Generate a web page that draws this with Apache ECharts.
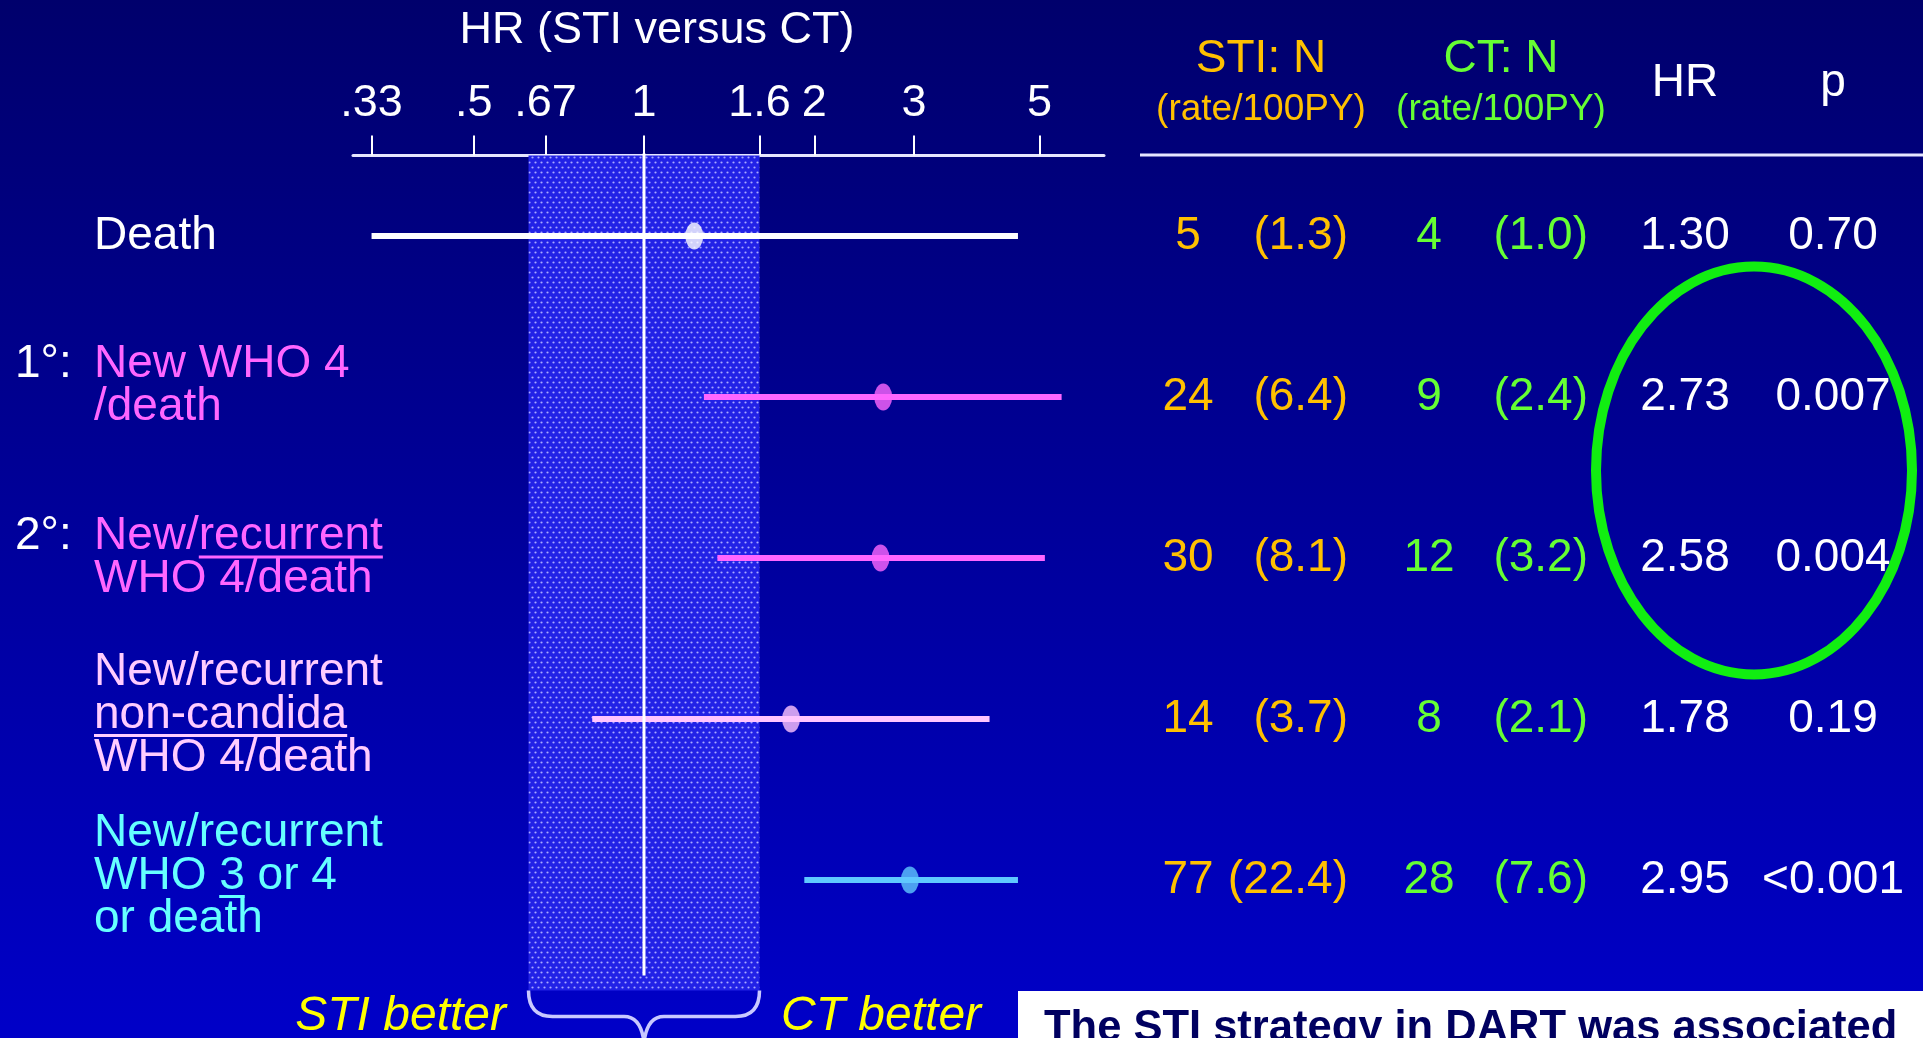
<!DOCTYPE html>
<html><head><meta charset="utf-8">
<script src="https://cdn.jsdelivr.net/npm/echarts@6/dist/echarts.min.js"></script>
<style>html,body{margin:0;padding:0;overflow:hidden;background:#000070}#c{width:1923px;height:1038px}</style>
</head><body><div id="c"></div>
<script>
const FONT = '"Liberation Sans", Arial, sans-serif';

// ---- data ----
const categories = ['Death', 'New WHO 4/death', 'New/recurrent WHO 4/death', 'New/recurrent non-candida WHO 4/death', 'New/recurrent WHO 3 or 4 or death'];
const hrPoint = [1.227, 2.647, 2.618, 1.819, 2.95];
const ciLow  = [0.33, 1.276, 1.348, 0.81, 1.92];
const ciHigh = [4.58, 5.47, 5.11, 4.08, 4.58];
const stiN    = [5, 24, 30, 14, 77];
const stiRate = [1.3, 6.4, 8.1, 3.7, 22.4];
const ctN     = [4, 9, 12, 8, 28];
const ctRate  = [1.0, 2.4, 3.2, 2.1, 7.6];
const hrText  = ['1.30', '2.73', '2.58', '1.78', '2.95'];
const pText   = ['0.70', '0.007', '0.004', '0.19', '<0.001'];
const tickValues = [0.33, 0.5, 0.67, 1, 1.6, 2, 3, 5];
const tickLabels = ['.33', '.5', '.67', '1', '1.6', '2', '3', '5'];
const bandRange = [0.625, 1.6];
const refValue = 1;

// row label lines: [prefix, text, underlined word]
const labelLines = [
  [['', 'Death', null]],
  [['1°:', 'New WHO 4', null], ['', '/death', null]],
  [['2°:', 'New/recurrent', 'recurrent'], ['', 'WHO 4/death', null]],
  [['', 'New/recurrent', null], ['', 'non-candida', 'non-candida'], ['', 'WHO 4/death', null]],
  [['', 'New/recurrent', null], ['', 'WHO 3 or 4', '3'], ['', 'or death', null]]
];
const labelShift = [0, -11, 0, -4, -4];
const lineColors  = ['#ffffff', '#ff66ff', '#ff66ff', '#ffc4ff', '#5fc8ff'];
const labelColors = ['#ffffff', '#ff66ff', '#ff66ff', '#ffccff', '#66ffff'];
const ORANGE = '#ffc000', GREEN = '#66ff33';

// dotted pattern for the band
const pc = document.createElement('canvas'); pc.width = 6; pc.height = 10;
const pg = pc.getContext('2d');
pg.fillStyle = '#2222e6'; pg.fillRect(0, 0, 6, 10);
pg.fillStyle = '#a8a8ff';
pg.beginPath(); pg.arc(1.5, 2.5, 1.1, 0, Math.PI * 2); pg.fill();
pg.beginPath(); pg.arc(4.5, 7.5, 1.1, 0, Math.PI * 2); pg.fill();

const chart = echarts.init(document.getElementById('c'), null, {renderer: 'canvas', width: 1923, height: 1038});

function tickFmt(v) {
  let best = 0, bd = Infinity;
  tickValues.forEach((t, i) => { const d = Math.abs(Math.log(t) - Math.log(v)); if (d < bd) { bd = d; best = i; } });
  return tickLabels[best];
}

const option = {
  animation: false,
  backgroundColor: {type: 'linear', x: 0, y: 0, x2: 0, y2: 1, colorStops: [{offset: 0, color: '#00006c'}, {offset: 1, color: '#0000c8'}]},
  grid: {left: 353, right: 819, top: 155.5, bottom: 77.5, containLabel: false, outerBoundsMode: 'none'},
  xAxis: {
    type: 'log', logBase: 10, position: 'top', min: 0.306, max: 6.5,
    splitLine: {show: false}, minorTick: {show: false},
    axisLine: {show: true, onZero: false, lineStyle: {color: '#e6e6ff', width: 3}},
    axisTick: {show: true, customValues: tickValues, length: 20, lineStyle: {color: '#ffffff', width: 2}},
    axisLabel: {show: true, customValues: tickValues, formatter: tickFmt, margin: 29, color: '#ffffff', fontSize: 45, fontFamily: FONT, lineHeight: 45}
  },
  yAxis: {type: 'category', data: categories, inverse: true, show: false},
  series: [
    { // shaded band + brace beneath it
      type: 'custom', z: 1, silent: true, data: [[refValue, 0]],
      renderItem(params, api) {
        const cs = params.coordSys;
        const x0 = api.coord([bandRange[0], 0])[0], x1 = api.coord([bandRange[1], 0])[0];
        const xm = api.coord([api.value(0), 0])[0];
        const yT = cs.y + cs.height + 30, yM = yT + 26, yB = yT + 52;
        const d = `M${x0} ${yT} Q${x0} ${yM} ${x0 + 24} ${yM} L${xm - 20} ${yM} Q${xm - 3} ${yM} ${xm} ${yB} ` +
          `M${xm} ${yB} Q${xm + 3} ${yM} ${xm + 20} ${yM} L${x1 - 24} ${yM} Q${x1} ${yM} ${x1} ${yT}`;
        return {type: 'group', children: [
          {type: 'rect', shape: {x: x0, y: cs.y, width: x1 - x0, height: cs.height + 30},
            style: {fill: {image: pc, repeat: 'repeat'}}},
          {type: 'path', shape: {pathData: d}, style: {fill: null, stroke: '#c8c8ff', lineWidth: 3.5}}
        ]};
      }
    },
    { // confidence intervals
      type: 'custom', z: 3, silent: true,
      data: categories.map((c, i) => [ciLow[i], ciHigh[i], i]),
      encode: {x: [0, 1], y: 2},
      renderItem(params, api) {
        const i = api.value(2);
        const p0 = api.coord([api.value(0), i]), p1 = api.coord([api.value(1), i]);
        return {type: 'line', shape: {x1: p0[0], y1: p0[1], x2: p1[0], y2: p1[1]},
          style: {stroke: lineColors[i], lineWidth: 6}};
      }
    },
    { // reference line at HR = 1
      type: 'custom', z: 4, silent: true, data: [[refValue, 0]],
      renderItem(params, api) {
        const cs = params.coordSys;
        const x = api.coord([api.value(0), 0])[0];
        return {type: 'line', shape: {x1: x, y1: cs.y - 2, x2: x, y2: cs.y + cs.height + 15},
          style: {stroke: '#ffffff', lineWidth: 3}};
      }
    },
    { // point estimates
      type: 'scatter', z: 5, silent: true, symbol: 'circle', symbolSize: [18, 27],
      data: hrPoint.map((v, i) => ({value: [v, i], itemStyle: {color: lineColors[i]}}))
    }
  ]
};
chart.setOption(option);

// ---- text & decorations ----
const mctx = document.createElement('canvas').getContext('2d');
function tw(text, size) { mctx.font = size + 'px ' + FONT; return mctx.measureText(text).width; }
const G = [];
function txt(x, y, text, size, color, align, style) {
  G.push({type: 'text', x, y, silent: true, z: 10,
    style: {text, fill: color, font: (style || '') + ' ' + size + 'px ' + FONT, align: align || 'left', verticalAlign: 'middle'}});
}
const rowY = categories.map((c, i) => chart.convertToPixel({yAxisIndex: 0}, i));

// title
txt(657, 31, 'HR (STI versus CT)', 45, '#ffffff', 'center');
// table header
txt(1261, 59, 'STI: N', 46, ORANGE, 'center');
txt(1261, 110, '(rate/100PY)', 37, ORANGE, 'center');
txt(1501, 59, 'CT: N', 46, GREEN, 'center');
txt(1501, 110, '(rate/100PY)', 37, GREEN, 'center');
txt(1685, 83, 'HR', 46, '#ffffff', 'center');
txt(1833, 83, 'p', 46, '#ffffff', 'center');
G.push({type: 'rect', silent: true, shape: {x: 1140, y: 153.5, width: 783, height: 3}, style: {fill: '#e6e6ff'}});

// table rows
categories.forEach((c, i) => {
  const y = rowY[i];
  txt(1188, y, String(stiN[i]), 46, ORANGE, 'center');
  txt(1348, y, '(' + stiRate[i].toFixed(1) + ')', 46, ORANGE, 'right');
  txt(1429, y, String(ctN[i]), 46, GREEN, 'center');
  txt(1588, y, '(' + ctRate[i].toFixed(1) + ')', 46, GREEN, 'right');
  txt(1685, y, hrText[i], 46, '#ffffff', 'center');
  txt(1833, y, pText[i], 46, '#ffffff', 'center');
});

// row labels
labelLines.forEach((lines, i) => {
  const n = lines.length;
  lines.forEach((ln, k) => {
    const yc = rowY[i] + (k - (n - 1) / 2) * 43 + labelShift[i];
    if (ln[0]) txt(15, yc, ln[0], 46, '#ffffff', 'left');
    txt(94, yc, ln[1], 46, labelColors[i], 'left');
    if (ln[2]) {
      const idx = ln[1].indexOf(ln[2]);
      const x0 = 94 + tw(ln[1].substring(0, idx), 46);
      G.push({type: 'rect', silent: true, z: 10, shape: {x: x0, y: yc + 19, width: tw(ln[2], 46), height: 3}, style: {fill: labelColors[i]}});
    }
  });
});

// green ellipse
G.push({type: 'ellipse', silent: true, z: 11, shape: {cx: 1754, cy: 470.5, rx: 158, ry: 204},
  style: {fill: 'transparent', stroke: '#11ee11', lineWidth: 10}});

txt(506, 1017, 'STI better', 48, '#ffff00', 'right', 'italic');
txt(781, 1017, 'CT better', 48, '#ffff00', 'left', 'italic');

// white note box
G.push({type: 'rect', silent: true, z: 10, shape: {x: 1018, y: 991, width: 905, height: 60}, style: {fill: '#ffffff'}});
txt(1044, 1029, 'The STI strategy in DART was associated', 43.5, '#000060', 'left', 'bold');

chart.setOption({graphic: {elements: G}});
</script></body></html>
